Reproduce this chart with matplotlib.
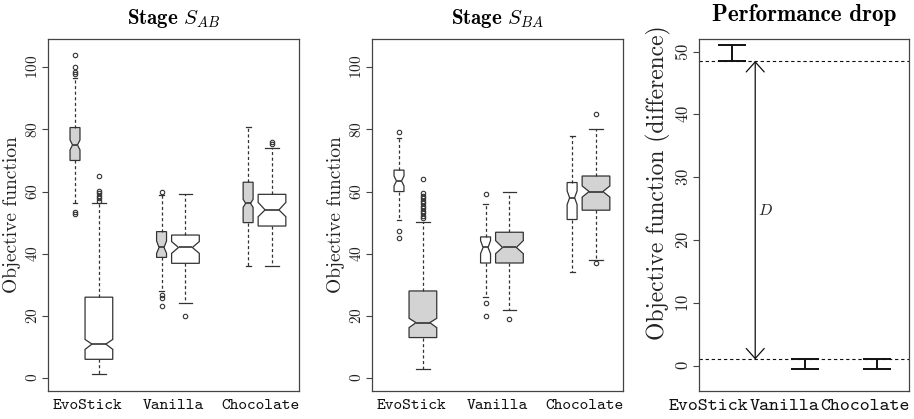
import numpy as np
import matplotlib.pyplot as plt

plt.rcParams['font.family'] = 'cmr10'
plt.rcParams['mathtext.fontset'] = 'cm'
plt.rcParams['axes.formatter.use_mathtext'] = True

methods = ['EvoStick', 'Vanilla', 'Chocolate']

# box order: EvoStick left, EvoStick right, Vanilla left, Vanilla right, Chocolate left, Chocolate right
# Stage S_AB (left boxes grey, right boxes white)
sab_med = [75.0, 10.9, 42.0, 42.0, 56.2, 54.1]
sab_q1 = [70.0, 6.0, 38.8, 36.9, 50.0, 48.9]
sab_q3 = [80.6, 26.0, 47.1, 46.0, 63.0, 59.1]
sab_cilo = [73.4, 9.2, 40.1, 40.1, 54.9, 51.9]
sab_cihi = [76.6, 12.4, 44.1, 43.9, 57.5, 56.5]
sab_whislo = [56.2, 1.2, 28.0, 24.1, 36.0, 36.0]
sab_whishi = [96.4, 56.2, 59.0, 59.2, 80.8, 74.1]
sab_fliers = [[104.1, 100.2, 98.6, 97.8, 53.5, 52.7],
              [65.1, 60.3, 59.5, 58.7, 57.9, 57.1],
              [60.0, 26.8, 25.8, 23.0],
              [20.0],
              [],
              [76.0, 75.3]]

# Stage S_BA (left boxes white, right boxes grey)
sba_med = [63.4, 17.8, 42.0, 42.0, 58.0, 60.0]
sba_q1 = [60.0, 13.0, 37.0, 37.0, 51.0, 54.0]
sba_q3 = [66.9, 28.0, 45.4, 46.9, 62.9, 65.0]
sba_cilo = [61.8, 16.2, 40.0, 40.0, 55.8, 58.2]
sba_cihi = [65.0, 19.2, 44.2, 44.2, 60.2, 61.8]
sba_whislo = [50.9, 3.0, 26.0, 22.0, 34.0, 38.0]
sba_whishi = [77.1, 50.3, 56.0, 60.0, 78.0, 80.1]
sba_fliers = [[79.1, 47.3, 45.2],
              [64.0, 59.4, 58.6, 57.8, 57.0, 56.2, 55.4, 54.6, 53.8, 53.0, 52.2, 51.4],
              [59.2, 24.1, 20.0],
              [19.0],
              [],
              [85.0, 37.0]]

# Performance drop (interval per method) and the two reference levels
drop_lo = [48.5, -0.5, -0.5]
drop_hi = [51.0, 1.0, 1.0]
drop_top = 48.5
drop_bottom = 1.0

GREY = '#d3d3d3'
LINE = '#333333'

fig = plt.figure(figsize=(9.14, 4.19), dpi=100)
ax1 = fig.add_axes([48 / 914, 28 / 419, 251 / 914, 352 / 419])
ax2 = fig.add_axes([372 / 914, 28 / 419, 251 / 914, 352 / 419])
ax3 = fig.add_axes([699 / 914, 28 / 419, 210 / 914, 352 / 419])

group_x = np.arange(1, len(methods) + 1)
box_pos = np.ravel([[g - 0.138, g + 0.138] for g in group_x])
box_w = [0.115, 0.32] * len(methods)


def draw_panel(ax, med, q1, q3, cilo, cihi, whislo, whishi, fliers, colors, title):
    stats = []
    for i in range(len(med)):
        stats.append(dict(med=med[i], q1=q1[i], q3=q3[i], cilo=cilo[i], cihi=cihi[i],
                          whislo=whislo[i], whishi=whishi[i], fliers=fliers[i]))
    bp = ax.bxp(stats, positions=box_pos, widths=box_w, shownotches=True, patch_artist=True,
                boxprops=dict(edgecolor=LINE, linewidth=0.9),
                whiskerprops=dict(color=LINE, linewidth=0.9, linestyle=(0, (2.5, 2))),
                capprops=dict(color=LINE, linewidth=0.9),
                medianprops=dict(color=LINE, linewidth=1.2),
                flierprops=dict(marker='o', markersize=3.2, markerfacecolor='none',
                                markeredgecolor=LINE, markeredgewidth=0.8))
    for patch, c in zip(bp['boxes'], colors):
        patch.set_facecolor(c)
    ax.set_xlim(0.55, 3.45)
    ax.set_ylim(-4.2, 109.1)
    ax.set_yticks([0, 20, 40, 60, 80, 100])
    ax.set_xticks(group_x, methods)
    ax.set_ylabel('Objective function', fontsize=14, color='#222222')
    ax.yaxis.set_label_coords(-0.108, 0.5)
    ax.set_title(title, fontsize=15, fontfamily='cmb10', pad=11)
    ax.tick_params(axis='x', labelsize=12)
    ax.tick_params(axis='y', labelsize=11)


draw_panel(ax1, sab_med, sab_q1, sab_q3, sab_cilo, sab_cihi, sab_whislo, sab_whishi,
           sab_fliers, [GREY, 'white'] * 3, 'Stage $S_{AB}$')
draw_panel(ax2, sba_med, sba_q1, sba_q3, sba_cilo, sba_cihi, sba_whislo, sba_whishi,
           sba_fliers, ['white', GREY] * 3, 'Stage $S_{BA}$')

# performance drop panel
drop_lo = np.array(drop_lo)
drop_hi = np.array(drop_hi)
ax3.errorbar(group_x, (drop_lo + drop_hi) / 2, yerr=(drop_hi - drop_lo) / 2, fmt='none',
             ecolor='#111111', elinewidth=1.4, capsize=10, capthick=1.4)
ax3.axhline(drop_top, color='#111111', linewidth=0.8, linestyle=(0, (3, 2.5)))
ax3.axhline(drop_bottom, color='#111111', linewidth=0.8, linestyle=(0, (3, 2.5)))
ax3.annotate('', xy=(1.32, drop_top), xytext=(1.32, drop_bottom),
             arrowprops=dict(arrowstyle='<->, head_length=0.4, head_width=0.36',
                             mutation_scale=18, color='#111111', lw=0.9,
                             shrinkA=0, shrinkB=0))
ax3.text(1.46, (drop_top + drop_bottom) / 2, '$D$', fontsize=11.5, ha='center', va='center',
         color='#222222')
ax3.set_xlim(0.545, 3.44)
ax3.set_ylim(-4.03, 52.0)
ax3.set_yticks([0, 10, 20, 30, 40, 50])
ax3.set_xticks([0.67, 1.72, 2.83], methods)
ax3.set_ylabel('Objective function (difference)', fontsize=17, color='#222222')
ax3.yaxis.set_label_coords(-0.133, 0.592)
ax3.set_title('Performance drop', fontsize=16.7, fontfamily='cmb10', pad=13)
ax3.tick_params(axis='x', labelsize=13.7)
ax3.tick_params(axis='y', labelsize=12)

for ax in (ax1, ax2, ax3):
    for s in ax.spines.values():
        s.set_color('#444444')
        s.set_linewidth(0.9)
    ax.tick_params(axis='x', length=0, pad=6, colors='#111111')
    ax.tick_params(axis='y', length=4, width=0.8, pad=2, labelrotation=90,
                   color='#444444', labelcolor='#222222')
    for lab in ax.get_yticklabels():
        lab.set_va('center')
    for lab in ax.get_xticklabels():
        lab.set_fontfamily('cmtt10')

fig.savefig('out.png', dpi=100)
